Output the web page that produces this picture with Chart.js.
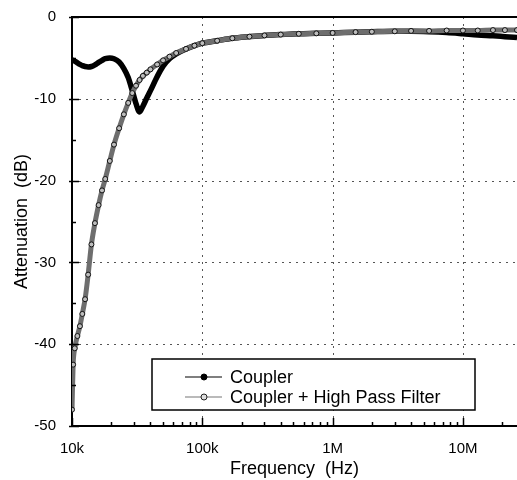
<!DOCTYPE html>
<html>
<head>
<meta charset="utf-8">
<title>Attenuation vs Frequency</title>
<script src="https://cdn.jsdelivr.net/npm/chart.js@4.4.1/dist/chart.umd.min.js"></script>
<style>
  html, body { margin: 0; padding: 0; background: #fff; }
  #wrap { width: 517px; height: 480px; }
</style>
</head>
<body>
<div id="wrap"><canvas id="attChart" width="517" height="480"></canvas></div>
<script>
// Frequency points (Hz)
const freqHz = [10000, 10200, 10500, 11000, 11500, 12000, 12600, 13300, 14100, 15000,
  16000, 17000, 18000, 19500, 21000, 23000, 25000, 27000, 29000, 31000,
  33000, 35000, 37500, 40000, 45000, 50000, 56000, 63000, 75000, 87000,
  100000, 130000, 170000, 230000, 300000, 400000, 550000, 750000, 1000000, 1500000,
  2000000, 3000000, 4000000, 5500000, 7500000, 10000000, 13000000, 17000000, 21000000, 26000000];

// Coupler attenuation (dB)
const couplerDb = [-5.2, -5.3, -5.4, -5.6, -5.8, -5.95, -6.05, -6.1, -6.05, -5.85,
  -5.55, -5.3, -5.1, -5.0, -5.1, -5.5, -6.3, -7.4, -9.0, -10.6,
  -11.6, -10.9, -9.9, -9.0, -7.3, -6.0, -5.1, -4.5, -3.9, -3.5,
  -3.2, -2.9, -2.6, -2.4, -2.25, -2.15, -2.05, -2.0, -1.95, -1.85,
  -1.8, -1.75, -1.75, -1.8, -1.9, -2.05, -2.2, -2.3, -2.4, -2.5];

// Coupler + High Pass Filter attenuation (dB)
const hpfDb = [-48, -42.5, -40.5, -39, -37.8, -36.3, -34.5, -31.5, -27.8, -25.2,
  -23, -21.2, -19.8, -17.6, -15.6, -13.6, -11.9, -10.5, -9.3, -8.4,
  -7.7, -7.2, -6.8, -6.4, -5.8, -5.3, -4.85, -4.4, -3.9, -3.5,
  -3.2, -2.9, -2.6, -2.4, -2.25, -2.15, -2.05, -2.0, -1.95, -1.85,
  -1.8, -1.75, -1.7, -1.7, -1.65, -1.65, -1.65, -1.6, -1.6, -1.6];

// Axis ticks
const xMajorTicks = [10000, 100000, 1000000, 10000000];
const xTickLabels = ['10k', '100k', '1M', '10M'];
const yMajorTicks = [-50, -40, -30, -20, -10, 0];
const yMinorTicks = [-45, -35, -25, -15, -5];

const seriesNames = ['Coupler', 'Coupler + High Pass Filter'];

const FONT = "'Liberation Sans', Arial, Helvetica, sans-serif";

// Build {x, y} points
function toPoints(xs, ys) {
  return xs.map((x, i) => ({ x: x, y: ys[i] }));
}

// Dotted grid, inward ticks and top frame
const framePlugin = {
  id: 'frame',
  beforeDatasetsDraw(chart) {
    const ctx = chart.ctx;
    const area = chart.chartArea;
    const xs = chart.scales.x;
    const ys = chart.scales.y;
    ctx.save();
    ctx.strokeStyle = '#555';
    ctx.lineWidth = 1;
    ctx.setLineDash([2, 5]);
    xMajorTicks.slice(1).forEach(v => {
      const px = Math.round(xs.getPixelForValue(v)) + 0.5;
      ctx.beginPath();
      ctx.moveTo(px, area.top);
      ctx.lineTo(px, area.bottom);
      ctx.stroke();
    });
    yMajorTicks.filter(v => v > -50 && v < 0).forEach(v => {
      const py = Math.round(ys.getPixelForValue(v)) + 0.5;
      ctx.beginPath();
      ctx.moveTo(area.left, py);
      ctx.lineTo(area.right, py);
      ctx.stroke();
    });
    ctx.restore();
  },
  afterDatasetsDraw(chart) {
    const ctx = chart.ctx;
    const area = chart.chartArea;
    const xs = chart.scales.x;
    const ys = chart.scales.y;
    ctx.save();
    ctx.strokeStyle = '#000';
    ctx.lineWidth = 1.5;
    // x minor and major ticks, pointing up
    xMajorTicks.forEach(d => {
      for (let m = 1; m <= 9; m++) {
        const v = d * m;
        if (v > xs.max) break;
        const px = Math.round(xs.getPixelForValue(v)) + 0.5;
        const len = m === 1 ? 8 : 4;
        ctx.beginPath();
        ctx.moveTo(px, area.bottom);
        ctx.lineTo(px, area.bottom - len);
        ctx.stroke();
      }
    });
    // y ticks, pointing right
    yMajorTicks.forEach(v => {
      const py = Math.round(ys.getPixelForValue(v)) + 0.5;
      ctx.beginPath();
      ctx.moveTo(area.left - 3, py);
      ctx.lineTo(area.left + 7, py);
      ctx.stroke();
    });
    yMinorTicks.forEach(v => {
      const py = Math.round(ys.getPixelForValue(v)) + 0.5;
      ctx.beginPath();
      ctx.moveTo(area.left, py);
      ctx.lineTo(area.left + 4, py);
      ctx.stroke();
    });
    // top frame
    ctx.lineWidth = 2;
    ctx.beginPath();
    ctx.moveTo(area.left, area.top);
    ctx.lineTo(area.right, area.top);
    ctx.stroke();
    ctx.restore();
  }
};

// Boxed legend inside the plot
const legendBoxPlugin = {
  id: 'legendBox',
  afterDraw(chart) {
    const ctx = chart.ctx;
    const area = chart.chartArea;
    const left = area.left + 80;
    const top = area.top + 342;
    const w = 323;
    const h = 51;
    ctx.save();
    ctx.fillStyle = '#fff';
    ctx.fillRect(left, top, w, h);
    ctx.strokeStyle = '#000';
    ctx.lineWidth = 1.5;
    ctx.strokeRect(left, top, w, h);

    const rows = [
      { y: top + 18, line: '#000', fill: '#000', stroke: '#000' },
      { y: top + 38, line: '#777', fill: '#ddd', stroke: '#222' }
    ];
    rows.forEach((r, i) => {
      ctx.strokeStyle = r.line;
      ctx.lineWidth = 1.2;
      ctx.beginPath();
      ctx.moveTo(left + 33, r.y);
      ctx.lineTo(left + 70, r.y);
      ctx.stroke();
      ctx.beginPath();
      ctx.arc(left + 52, r.y, 3, 0, Math.PI * 2);
      ctx.fillStyle = r.fill;
      ctx.fill();
      ctx.strokeStyle = r.stroke;
      ctx.lineWidth = 1;
      ctx.stroke();
      ctx.fillStyle = '#000';
      ctx.font = '18px ' + FONT;
      ctx.textBaseline = 'middle';
      ctx.textAlign = 'left';
      ctx.fillText(seriesNames[i], left + 78, r.y + 1);
    });
    ctx.restore();
  }
};

function initChart() {
  const canvas = document.getElementById('attChart');
  const ctx = canvas.getContext('2d');

  const config = {
    type: 'line',
    data: {
      datasets: [{
        label: seriesNames[0],
        data: toPoints(freqHz, couplerDb),
        borderColor: '#000',
        borderWidth: 5.5,
        pointRadius: 1.5,
        pointBorderWidth: 0,
        pointBackgroundColor: '#000',
        pointBorderColor: '#000',
        cubicInterpolationMode: 'monotone',
        order: 1
      }, {
        label: seriesNames[1],
        data: toPoints(freqHz, hpfDb),
        borderColor: '#6e6e6e',
        borderWidth: 5,
        pointRadius: 2.5,
        pointBackgroundColor: '#bdbdbd',
        pointBorderColor: '#111',
        pointBorderWidth: 1,
        cubicInterpolationMode: 'monotone',
        order: 0
      }]
    },
    options: {
      responsive: false,
      animation: false,
      devicePixelRatio: 1,
      layout: { autoPadding: false, padding: { top: 17, right: 0, left: 0, bottom: 0 } },
      plugins: {
        legend: { display: false },
        tooltip: { enabled: false }
      },
      scales: {
        x: {
          type: 'logarithmic',
          min: 10000,
          max: 26000000,
          afterBuildTicks: function (scale) {
            scale.ticks = xMajorTicks.map(v => ({ value: v }));
          },
          afterFit: function (scale) {
            scale.height = 54;
            scale.paddingLeft = 0;
            scale.paddingRight = 0;
          },
          grid: { display: false },
          border: { display: true, color: '#000', width: 2 },
          ticks: {
            color: '#000',
            font: { family: FONT, size: 15 },
            padding: 6,
            maxRotation: 0,
            autoSkip: false,
            callback: function (value) {
              const i = xMajorTicks.indexOf(value);
              return i >= 0 ? xTickLabels[i] : '';
            }
          },
          title: {
            display: true,
            text: 'Frequency  (Hz)',
            color: '#000',
            font: { family: FONT, size: 18 },
            padding: { top: 0, bottom: 0 }
          }
        },
        y: {
          min: -50,
          max: 0,
          afterBuildTicks: function (scale) {
            scale.ticks = yMajorTicks.map(v => ({ value: v }));
          },
          afterFit: function (scale) {
            scale.width = 72;
          },
          grid: { display: false },
          border: { display: true, color: '#000', width: 2 },
          ticks: {
            color: '#000',
            font: { family: FONT, size: 15 },
            padding: 8,
            callback: function (value) {
              return String(value);
            }
          },
          title: {
            display: true,
            text: 'Attenuation  (dB)',
            color: '#000',
            font: { family: FONT, size: 18 },
            padding: { top: 11, bottom: 0 }
          }
        }
      }
    },
    plugins: [framePlugin, legendBoxPlugin]
  };

  window.attChart = new Chart(ctx, config);
}

document.addEventListener('DOMContentLoaded', initChart);
</script>
</body>
</html>
